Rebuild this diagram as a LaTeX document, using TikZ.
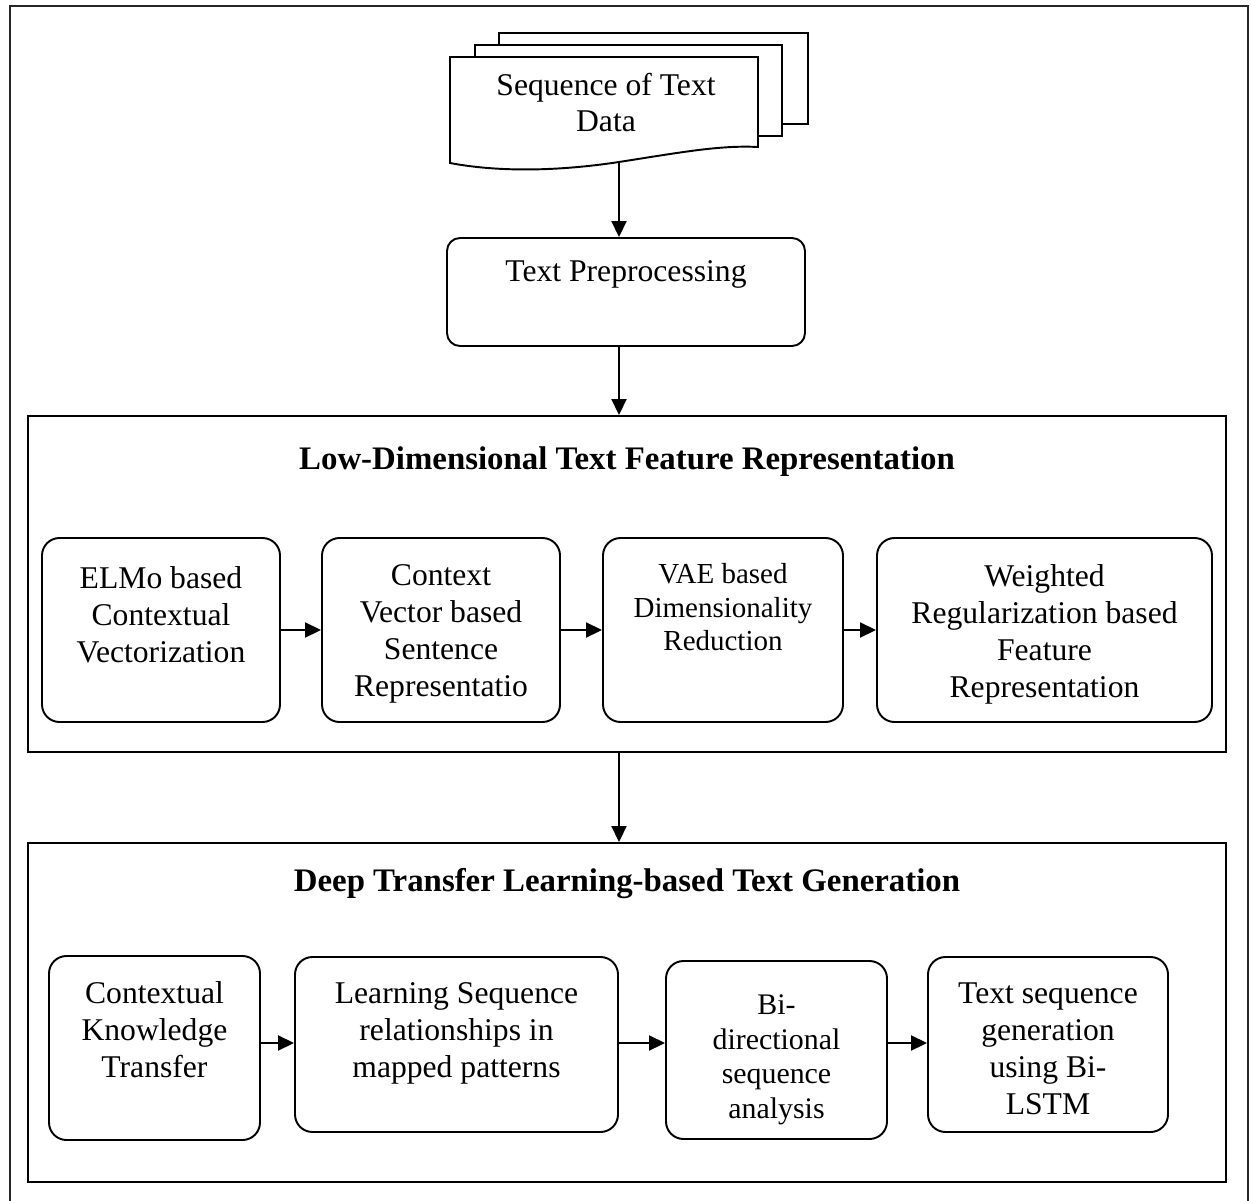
\documentclass[tikz,border=0pt]{standalone}
\usepackage{fontspec}
\setmainfont{Liberation Serif}
\usetikzlibrary{arrows.meta,positioning,calc}

\begin{document}
\begin{tikzpicture}[>={Triangle[length=0.32cm,width=0.3cm]},line width=1.1pt,font=\fontsize{18}{21}\selectfont]
\tikzstyle{b}=[draw,rounded corners=0.35cm,line width=1.1pt]
\tikzstyle{lb}=[anchor=north,align=center,inner sep=0pt]
\tikzstyle{hd}=[font=\fontsize{18.7}{22}\selectfont\bfseries]
\useasboundingbox (0,0) rectangle (25.02,-24.02);
\draw[line width=1.5pt,black!85] (0.2,-0.12) rectangle (24.96,-24.2);
% stacked pages of the input
\draw[fill=white] (9.98,-0.66) rectangle (16.16,-2.48);
\draw[fill=white] (9.5,-0.9) rectangle (15.64,-2.72);
\draw[fill=white] (9,-1.14) -- (15.16,-1.14) -- (15.16,-2.94) .. controls (14.4,-2.9) and (13.6,-3.05) .. (12.38,-3.24) coordinate (docb) .. controls (11.2,-3.42) and (10,-3.45) .. (9,-3.26) -- cycle;
\node[align=center] (doc) at (12.12,-2.05) {Sequence of Text\\Data};
\node[b,rounded corners=0.26cm,minimum width=7.16cm,minimum height=2.16cm,label={[lb,yshift=-0.46cm]north:Text Preprocessing}] (prep) at (12.52,-5.84) {};
% feature representation block
\node[draw,minimum width=23.96cm,minimum height=6.72cm] (lowdim) at (12.54,-11.68) {};
\node[hd] (lowdim-t) at (12.54,-9.24) {Low-Dimensional Text Feature Representation};
\node[b,minimum width=4.76cm,minimum height=3.68cm,label={[lb,yshift=-0.58cm]north:ELMo based\\Contextual\\Vectorization}] (elmo) at (3.22,-12.6) {};
\node[b,minimum width=4.76cm,minimum height=3.68cm,label={[lb,yshift=-0.54cm]north:Context\\Vector based\\Sentence\\Representatio}] (ctx) at (8.82,-12.6) {};
\node[b,minimum width=4.8cm,minimum height=3.68cm,label={[lb,yshift=-0.5cm,font=\fontsize{16.5}{19.3}\selectfont]north:VAE based\\Dimensionality\\Reduction}] (vae) at (14.46,-12.6) {};
\node[b,minimum width=6.7cm,minimum height=3.68cm,label={[lb,yshift=-0.54cm]north:Weighted\\Regularization based\\Feature\\Representation}] (wrf) at (20.89,-12.6) {};
% generation block
\node[draw,minimum width=23.96cm,minimum height=6.78cm] (gen) at (12.54,-20.25) {};
\node[hd] (gen-t) at (12.54,-17.68) {Deep Transfer Learning-based Text Generation};
\node[b,minimum width=4.22cm,minimum height=3.68cm,label={[lb,yshift=-0.52cm]north:Contextual\\Knowledge\\Transfer}] (ckt) at (3.09,-20.96) {};
\node[b,minimum width=6.46cm,minimum height=3.5cm,label={[lb,yshift=-0.52cm]north:Learning Sequence\\relationships in\\mapped patterns}] (lsr) at (9.13,-20.89) {};
\node[b,minimum width=4.42cm,minimum height=3.56cm,label={[lb,yshift=-0.68cm,font=\fontsize{17}{19.6}\selectfont]north:Bi-\\directional\\sequence\\analysis}] (bda) at (15.53,-21.0) {};
\node[b,minimum width=4.8cm,minimum height=3.5cm,label={[lb,yshift=-0.52cm]north:Text sequence\\generation\\using Bi-\\LSTM}] (tsg) at (20.96,-20.89) {};
\coordinate (r2) at (0,-20.86);
% connectors
\draw[->] (docb) -- (prep.north -| docb);
\draw[->] (prep.south -| docb) -- (lowdim.north -| docb);
\draw[->] (lowdim.south -| docb) -- (gen.north -| docb);
\foreach \a/\b in {elmo/ctx,ctx/vae,vae/wrf} \draw[->] (\a.east) -- (\b.west);
\foreach \a/\b in {ckt/lsr,lsr/bda,bda/tsg} \draw[->] (\a.east |- r2) -- (\b.west |- r2);
\end{tikzpicture}
\end{document}
